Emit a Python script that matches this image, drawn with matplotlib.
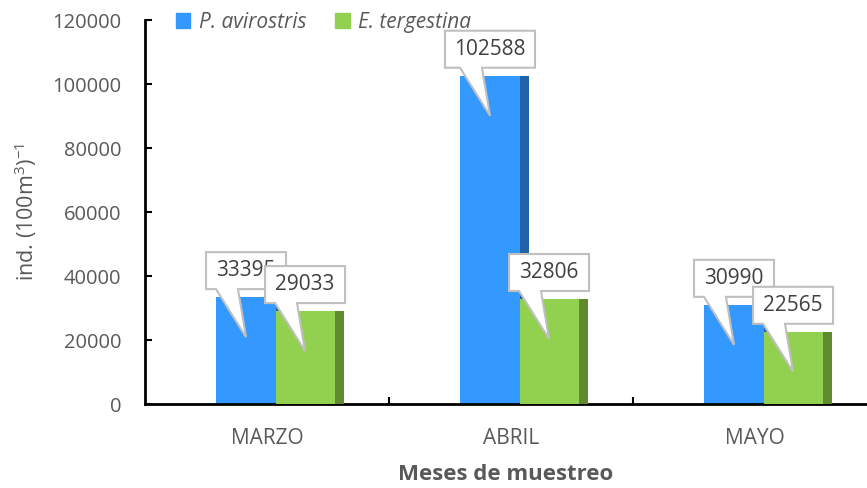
import matplotlib
matplotlib.use("Agg")
import matplotlib.pyplot as plt
import matplotlib.transforms as mtransforms
from matplotlib.patches import Polygon, Patch

plt.rcParams['font.family'] = ['Open Sans', 'DejaVu Sans']
plt.rcParams['mathtext.fontset'] = 'custom'
plt.rcParams['mathtext.rm'] = 'Open Sans'

months = ['MARZO', 'ABRIL', 'MAYO']
p_avirostris = [33395, 102588, 30990]
e_tergestina = [29033, 32806, 22565]
series_names = ['P. avirostris', 'E. tergestina']

blue, blue_side = '#3399FF', '#2263A8'
green, green_side = '#92D050', '#5F8B2E'
txt = '#595959'

fig = plt.figure(figsize=(8.67, 4.88), dpi=100)
ax = fig.add_axes([145 / 867, 84 / 488, 721 / 867, 384 / 488])

bw = 0.242      # front face width
depth = 0.037   # visible side face
x0 = -0.207     # left edge of the first bar relative to the month

for i in range(len(months)):
    xb = i + x0
    xg = xb + bw
    # blue bar: side then front
    ax.bar(xb + bw, p_avirostris[i], width=depth, align='edge', color=blue_side, zorder=2)
    ax.bar(xb, p_avirostris[i], width=bw, align='edge', color=blue, zorder=2)
    # green bar in front of the blue side
    ax.bar(xg + bw, e_tergestina[i], width=depth, align='edge', color=green_side, zorder=3)
    ax.bar(xg, e_tergestina[i], width=bw, align='edge', color=green, zorder=3)


def callout(xc, val, label, z):
    # speech-bubble label, drawn in pixel units around the top of the bar
    tr = mtransforms.Affine2D() + mtransforms.ScaledTranslation(xc, val, ax.transData)
    w = 10 * len(label) + 30
    b, t = 8, 45
    verts = [(-w / 2, b), (-30, b), (0, -40), (-8, b), (w / 2, b),
             (w / 2, t), (-w / 2, t)]
    poly = Polygon(verts, closed=True, transform=tr, facecolor='white',
                   edgecolor='#BFBFBF', lw=1.5, zorder=z, clip_on=False)
    ax.add_patch(poly)
    ax.text(0, (b + t) / 2, label, transform=tr, ha='center', va='center',
            fontsize=15, color='#404040', zorder=z + 0.5)


for i in range(len(months)):
    callout(i + x0 + bw / 2, p_avirostris[i], str(p_avirostris[i]), 5)
for i in range(len(months)):
    callout(i + x0 + 1.5 * bw, e_tergestina[i], str(e_tergestina[i]), 7)

ax.set_xlim(-0.5, 2.455)
ax.set_ylim(0, 120000)
ax.set_yticks(range(0, 120001, 20000))
ax.set_xticks(range(len(months)))
ax.set_xticklabels(months)
ax.set_xticks([0.5, 1.5], minor=True)

ax.tick_params(axis='y', direction='in', length=5, width=1.5, pad=17,
               labelsize=14.5, labelcolor=txt)
ax.tick_params(axis='x', which='major', length=0, pad=17, labelsize=15, labelcolor=txt)
ax.tick_params(axis='x', which='minor', direction='in', length=5, width=1.5)

for s in ['top', 'right']:
    ax.spines[s].set_visible(False)
for s in ['left', 'bottom']:
    ax.spines[s].set_linewidth(2)
    ax.spines[s].set_color('black')

ax.set_xlabel('Meses de muestreo', fontsize=16, fontweight='bold', color=txt, labelpad=11)
fig.text(26 / 867, 1 - 212 / 488, r'ind. (100m$^{\mathregular{3}}$)$^{\mathregular{-1}}$',
         rotation=90, ha='center', va='center', fontsize=15.5, color=txt)

handles = [Patch(color=blue), Patch(color=green)]
fig.legend(handles, series_names, loc='upper left', bbox_to_anchor=(157 / 867, 1.014),
           ncol=2, frameon=False, handlelength=0.7, handleheight=0.7,
           handletextpad=0.4, columnspacing=1.4,
           prop={'style': 'italic', 'size': 15}, labelcolor=txt)

fig.savefig('out.png', dpi=100)
